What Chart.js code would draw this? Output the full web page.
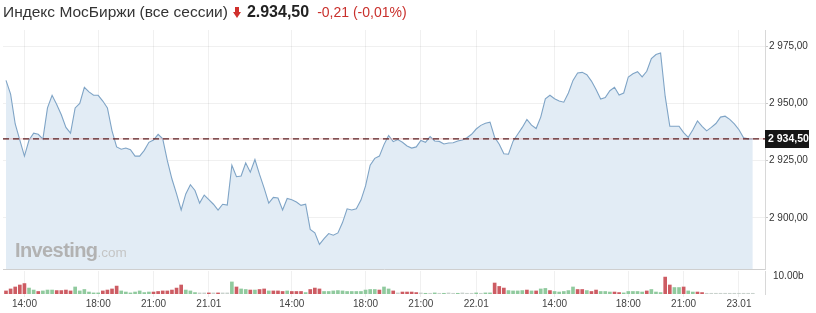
<!DOCTYPE html>
<html><head><meta charset="utf-8">
<script src="https://cdn.jsdelivr.net/npm/chart.js@4"></script>
<style>
html,body{margin:0;padding:0;background:#fff;}
#wrap{position:relative;width:816px;height:313px;overflow:hidden;font-family:"Liberation Sans",Arial,sans-serif;}
#title{position:absolute;left:3px;top:2px;white-space:nowrap;line-height:20px;color:#333;}
#title .nm{font-size:15.5px;}
#title .arr{display:inline-block;position:relative;width:8px;height:11px;margin:0 6px 0 5px;vertical-align:-1px;}
#title .arr:before{content:"";position:absolute;left:2px;top:0;width:4px;height:5px;background:#d0312d;}
#title .arr:after{content:"";position:absolute;left:0;top:5px;border-left:4px solid transparent;border-right:4px solid transparent;border-top:6px solid #d0312d;}
#title .pr{font-size:16px;font-weight:bold;color:#222;margin-right:8px;}
#title .ch{font-size:14px;color:#c9302c;}
canvas{position:absolute;left:0;}
#pc{top:0;}
#vc{top:270px;}
#wm{position:absolute;left:15px;top:239px;white-space:nowrap;color:#b2b2b2;}
#wm b{font-size:20px;letter-spacing:-0.6px;}
#wm span{font-size:13.5px;color:#c5c5c5;}
</style></head>
<body><div id="wrap">
<canvas id="pc" width="816" height="270"></canvas>
<canvas id="vc" width="816" height="43"></canvas>
<div id="wm"><b>Investing</b><span>.com</span></div>
<div id="title"><span class="nm">Индекс МосБиржи (все сессии)</span><span class="arr"></span><span class="pr">2.934,50</span><span class="ch">-0,21 (-0,01%)</span></div>
</div>
<script>
// ---- data ----
const xTickPos = [4, 20, 32, 44, 62, 78, 90, 102, 119, 135, 147, 159];
const xTickLabels = ['14:00','18:00','21:00','21.01','14:00','18:00','21:00','22.01','14:00','18:00','21:00','23.01'];
const priceTicks = [2900, 2925, 2950, 2975];
const volTicks = [10];
const lastPrice = 2934.5;

const prices = [2960,2954,2941,2934,2927,2934,2937,2936.5,2934.4,2948,
2953.5,2949.5,2945,2939.5,2937,2948,2950,2957,2955,2953.5,
2953.5,2951,2948,2938,2931,2930,2930.5,2929.8,2927,2927,
2929.5,2933,2934,2936.5,2934.5,2925,2917,2910.5,2903.5,2910.5,
2914.5,2912,2906.5,2910,2908,2906,2903.4,2906,2905.6,2923,
2918,2918.3,2924,2920,2925.5,2919,2913,2906.5,2909,2908.7,
2903.5,2908.5,2908,2907,2905.5,2906,2895,2893.5,2888.5,2891,
2893.2,2892.5,2893.5,2898,2904,2903.5,2904,2907.8,2914,2923,
2926,2927,2932,2936,2933.3,2934.2,2933,2931.4,2930.5,2931,
2933.8,2933,2935.5,2933.6,2933.4,2932.3,2932.7,2932.8,2933.6,2934,
2935,2936.5,2938.8,2940.4,2941.3,2941.8,2935.2,2932.2,2928,2927.8,
2933.5,2936.5,2939.5,2943,2940.5,2939,2944,2952,2953.5,2952,
2951,2950.5,2954.5,2960,2963.2,2963.5,2962.5,2959.7,2956,2951.9,
2952.5,2955.5,2957,2953.6,2954.5,2961.5,2962.9,2963.8,2961.5,2964,
2969.5,2971.3,2972,2953,2940,2940,2940,2937.2,2935.2,2938.5,
2942.3,2940,2938,2939.5,2941.2,2944,2944.4,2943,2941,2938.5,
2935,2934.5,2934.5];

// volume in billions
const volumes = [1.7,2.8,3.9,5.0,5.8,3.3,2.2,1.4,1.7,2.2,
2.2,1.9,1.9,2.2,1.7,3.9,1.7,2.5,1.1,0.6,
0.6,1.7,2.2,2.8,4.4,1.7,1.1,0.6,1.1,1.7,
0.8,1.1,1.1,1.4,1.7,1.7,2.2,3.3,5.0,2.2,
1.7,0.8,0.6,0.6,0.6,0.6,0.6,0.6,0.6,6.7,
3.9,2.8,2.5,2.2,2.2,2.5,2.8,1.7,1.7,1.7,
1.4,1.7,1.4,1.4,1.4,0.8,2.5,3.3,2.8,1.4,
1.4,1.7,1.9,1.7,1.4,1.4,1.4,1.4,2.2,2.5,
2.5,2.2,3.9,2.8,1.7,0.6,1.1,1.1,1.1,0.8,
0.6,0.4,0.4,0.6,0.4,0.4,0.6,0.4,0.4,0.6,
0.4,0.4,0.6,0.4,0.6,0.6,6.1,4.2,3.3,1.9,
1.7,1.7,1.9,2.2,1.7,1.7,2.8,3.1,1.9,1.4,
1.1,1.4,1.9,3.9,2.5,2.5,1.9,1.4,2.2,1.4,
1.4,1.1,1.1,0.8,0.6,1.4,1.4,1.4,1.1,1.7,
2.5,1.1,0.8,9.4,5.0,3.6,3.6,3.9,1.7,1.1,
1.1,0.8,0.4,0.4,0.4,0.4,0.4,0.4,0.4,0.4,
0.4,0.4,0.4];

// bar direction: r = down, g = up, n = flat
const volDir = ("rrrrrggrgg"+"grrrrggggg"+"grrrrggggg"+"ggrrrrrrrg"+"ggnnrnrnng"+
 "rggrgrrgrr"+"rgrrrgrrrg"+"gggggggggg"+"grggrnrrrr"+"ngngngnngn"+
 "nngnggrrrg"+"gggrgrggrg"+"ggggrrgrrg"+"ggrrgggggr"+"gggrrggrgg"+
 "rrnnnnnnnn"+"nnn").split('');

// ---- presentation ----
const volColors = {r:'rgba(200,74,82,0.9)', g:'rgba(132,196,148,0.9)', n:'rgba(192,202,196,0.85)'};
const X_MIN = -0.65, X_MAX = 164.65;
const P_MIN = 2877.76, P_MAX = 2981.98;
const V_MAX = 12.78;
const gridColor = 'rgba(0,0,0,0.06)';
const FONT = '"Liberation Sans", Arial, sans-serif';

function fmtPrice(v){
  const parts = Math.abs(v).toFixed(2).split('.');
  return parts[0].replace(/\B(?=(\d{3})+(?!\d))/g,' ') + ',' + parts[1];
}

function noPad(s){ s.paddingTop = 0; s.paddingBottom = 0; s.paddingLeft = 0; s.paddingRight = 0; }

function xScale(showLabels){
  return {
    type:'linear', min:X_MIN, max:X_MAX, offset:false,
    afterBuildTicks: s => { s.ticks = xTickPos.map(v => ({value:v})); },
    grid:{color:gridColor, drawTicks:showLabels, tickLength:3, tickColor:'rgba(0,0,0,0.08)', offset:false},
    border:{display:!showLabels, color:'#cfcfcf'},
    ticks:{display:showLabels, autoSkip:false, maxRotation:0, padding:1, color:'#444',
      font:{size:10, family:FONT},
      callback: v => { const k = xTickPos.indexOf(v); return k >= 0 ? xTickLabels[k] : ''; }},
    afterFit: s => { s.height = showLabels ? 19 : 0; noPad(s); }
  };
}

const boxPlugin = {
  id:'lastBox',
  afterDraw(c){
    const py = Math.round(c.scales.y.getPixelForValue(lastPrice));
    const ctx = c.ctx, x0 = c.chartArea.right;
    ctx.save();
    ctx.fillStyle = '#161616';
    ctx.fillRect(x0, py - 9, 44, 18);
    ctx.fillStyle = '#fff';
    ctx.font = 'bold 10.5px ' + FONT;
    ctx.textBaseline = 'middle';
    ctx.fillText(fmtPrice(lastPrice), x0 + 3, py + 0.5);
    ctx.restore();
  }
};

const refLine = [{x:X_MIN, y:lastPrice}, {x:X_MAX, y:lastPrice}];

new Chart(document.getElementById('pc'), {
  type:'line',
  data:{datasets:[
    {data:prices.map((p,i)=>({x:i,y:p})), borderColor:'#7fa4c6', borderWidth:1.1,
     backgroundColor:'#e2ecf5', fill:'start', pointRadius:0, tension:0, order:3},
    {data:refLine, borderColor:'rgba(228,150,150,0.6)', borderWidth:1, pointRadius:0, fill:false, order:2},
    {data:refLine, borderColor:'#5b2326', borderWidth:1.2, borderDash:[6,4], pointRadius:0, fill:false, order:1}
  ]},
  options:{
    responsive:false, animation:false, events:[],
    layout:{padding:{top:30, left:3, bottom:1, right:0}},
    plugins:{legend:{display:false}, tooltip:{enabled:false}},
    scales:{
      x: xScale(false),
      y:{position:'right', min:P_MIN, max:P_MAX,
         afterBuildTicks: s => { s.ticks = priceTicks.map(v => ({value:v})); },
         grid:{color:gridColor, tickLength:3, tickColor:'#c8c8c8'},
         border:{color:'#d8d8d8'},
         ticks:{padding:1, color:'#333', font:{size:10, family:FONT}, callback: v => fmtPrice(v)},
         afterFit: s => { s.width = 51; noPad(s); }}
    }
  },
  plugins:[boxPlugin]
});

new Chart(document.getElementById('vc'), {
  type:'bar',
  data:{datasets:[{data:volumes.map((v,i)=>({x:i,y:v})),
    backgroundColor:volDir.map(d => volColors[d]), barThickness:3, borderWidth:0}]},
  options:{
    responsive:false, animation:false, events:[],
    layout:{padding:{top:1, left:3, bottom:0, right:0}},
    plugins:{legend:{display:false}, tooltip:{enabled:false}},
    scales:{
      x: xScale(true),
      y:{position:'right', min:0, max:V_MAX,
         afterBuildTicks: s => { s.ticks = volTicks.map(v => ({value:v})); },
         grid:{display:false},
         border:{color:'#d8d8d8'},
         ticks:{padding:0, color:'#333', font:{size:10, family:FONT}, callback: v => v.toFixed(2) + 'b'},
         afterFit: s => { s.width = 51; noPad(s); }}
    }
  }
});
</script>
</body></html>
